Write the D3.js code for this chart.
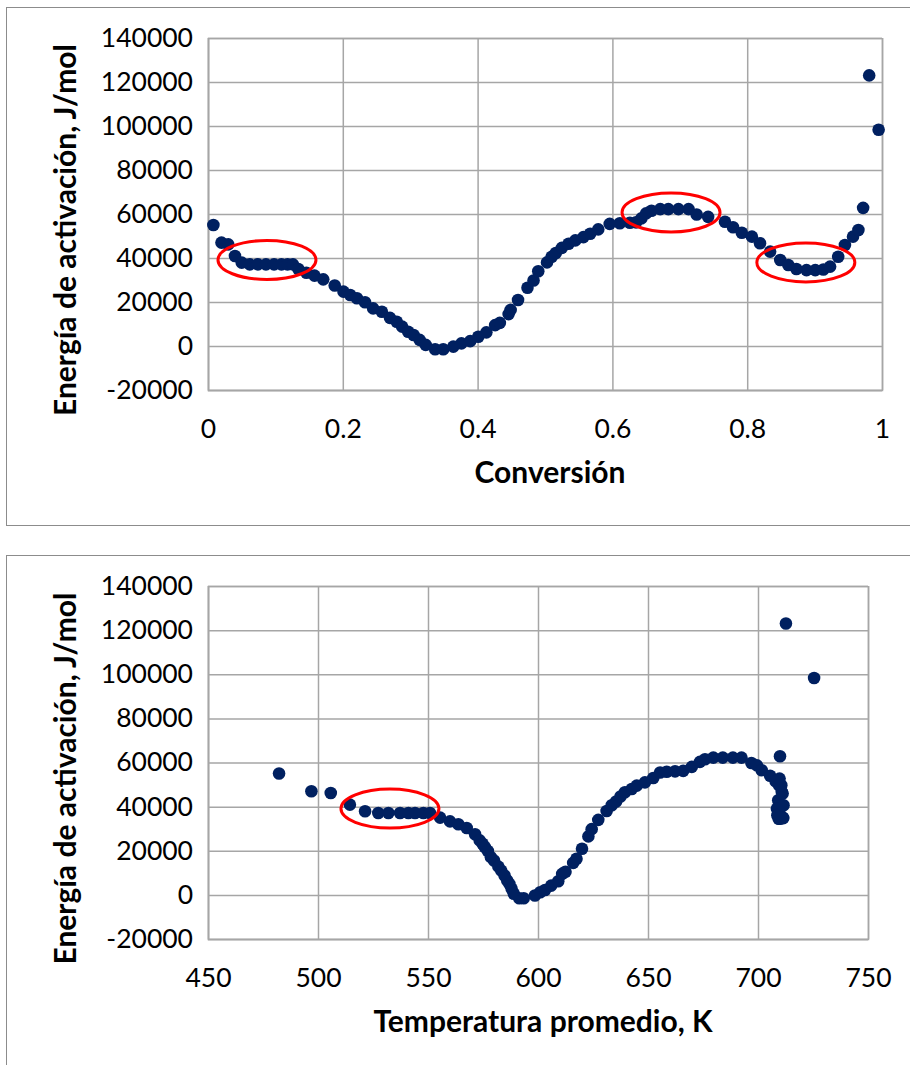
<!DOCTYPE html>
<html>
<head>
<meta charset="utf-8">
<script src="https://cdn.jsdelivr.net/npm/d3@7"></script>
<style>
html, body { margin: 0; padding: 0; background: #fff; }
svg text { font-family: Lato, "Open Sans", sans-serif; fill: #000; }
.axis .tick text { font-size: 26.5px; }
.axis line, .axis path { stroke: #a6a6a6; stroke-width: 1.5px; }
.title { font-size: 30px; font-weight: bold; }
.dot { fill: #002060; }
.ring { fill: none; stroke: #ff0000; stroke-width: 3px; }
.frame { fill: none; stroke: #8c8c8c; stroke-width: 1px; }
</style>
</head>
<body>
<svg id="chart" width="910" height="1065"></svg>
<script>

// values, one entry per point, same order in all three
var conversion = [0.008, 0.020, 0.030, 0.040, 0.050, 0.062, 0.074, 0.086, 0.098, 0.109,
  0.118, 0.126, 0.134, 0.146, 0.158, 0.171, 0.188, 0.201, 0.211, 0.221,
  0.233, 0.245, 0.258, 0.270, 0.280, 0.288, 0.297, 0.305, 0.314, 0.323,
  0.337, 0.349, 0.364, 0.376, 0.389, 0.401, 0.413, 0.426, 0.433, 0.446,
  0.449, 0.460, 0.474, 0.483, 0.490, 0.503, 0.510, 0.516, 0.525, 0.535,
  0.545, 0.557, 0.567, 0.579, 0.596, 0.611, 0.626, 0.635, 0.643, 0.650,
  0.658, 0.671, 0.683, 0.698, 0.713, 0.725, 0.742, 0.767, 0.779, 0.792,
  0.807, 0.819, 0.834, 0.849, 0.861, 0.873, 0.888, 0.901, 0.913, 0.923,
  0.935, 0.945, 0.957, 0.965, 0.972, 0.981, 0.995];

var temperature = [482.3, 497.0, 505.8, 514.5, 521.4, 527.4, 532.0, 537.3, 541.1, 544.1,
  547.9, 550.9, 555.5, 560.0, 563.8, 567.6, 571.4, 573.5, 574.8, 575.8,
  577.2, 578.6, 580.0, 582.0, 583.3, 584.8, 586.0, 587.0, 588.0, 589.0,
  591.5, 593.5, 598.6, 601.0, 603.2, 606.0, 609.2, 611.0, 612.5, 616.0,
  617.5, 620.0, 622.9, 624.4, 627.4, 631.2, 633.5, 635.5, 637.5, 639.5,
  642.6, 644.9, 648.6, 652.4, 655.5, 658.5, 662.3, 666.0, 669.9, 673.6,
  675.9, 679.7, 684.0, 688.6, 692.5, 697.0, 699.5, 701.7, 705.5, 708.0,
  709.6, 710.8, 709.2, 708.6, 709.8, 711.3, 709.4, 710.0, 711.5, 708.8,
  711.6, 711.2, 710.6, 709.8, 710.0, 712.7, 725.5];

var energy = [55000, 47000, 46200, 40900, 37900, 37100, 37100, 37100, 37100, 37100,
  37100, 37100, 35000, 33300, 32000, 30300, 27500, 24700, 23200, 21700,
  19900, 17100, 15600, 12800, 11000, 8800, 6500, 5000, 2800, 500,
  -1500, -1500, -300, 1200, 2200, 4200, 6200, 9500, 10500, 14500,
  16400, 20900, 26500, 29800, 34000, 38000, 40600, 42300, 44600, 46500,
  48000, 49500, 51000, 53000, 55500, 55800, 56000, 56200, 58000, 60300,
  61500, 62200, 62200, 62200, 62200, 59800, 58700, 56500, 54000, 51500,
  49700, 46700, 42900, 39100, 36800, 35000, 34500, 34500, 34800, 36100,
  40600, 45900, 49700, 52700, 62800, 123000, 98300];

var energyTicks = [-20000, 0, 20000, 40000, 60000, 80000, 100000, 120000, 140000];
var conversionTicks = [0, 0.2, 0.4, 0.6, 0.8, 1];
var temperatureTicks = [450, 500, 550, 600, 650, 700, 750];

// red rings: [x value, energy]
var conversionRings = [[0.0875, 39100], [0.687, 60700], [0.887, 38000]];
var temperatureRings = [[532.7, 39100]];

var svg = d3.select("#chart");

function panel(opt) {
  var g = svg.append("g");

  g.append("rect").attr("class", "frame")
      .attr("x", 6.5).attr("y", opt.frameTop + 0.5)
      .attr("width", 1000).attr("height", opt.frameHeight);

  var x = d3.scaleLinear().domain(opt.xDomain).range([opt.left, opt.right]);
  var y = d3.scaleLinear().domain([-20000, 140000]).range([opt.bottom, opt.top]);

  g.append("g").attr("class", "axis")
      .attr("transform", "translate(" + opt.left + ",0)")
      .call(d3.axisLeft(y).tickValues(energyTicks).tickFormat(String)
        .tickSize(-(opt.right - opt.left)).tickPadding(15));

  g.append("g").attr("class", "axis")
      .attr("transform", "translate(0," + opt.bottom + ")")
      .call(d3.axisBottom(x).tickValues(opt.xTicks).tickFormat(String)
        .tickSize(-(opt.bottom - opt.top)).tickPadding(29));

  g.selectAll(".dot")
      .data(energy)
    .enter().append("circle")
      .attr("class", "dot")
      .attr("r", 6.3)
      .attr("cx", function(d, i) { return x(opt.xValues[i]); })
      .attr("cy", function(d) { return y(d); });

  g.selectAll(".ring")
      .data(opt.rings)
    .enter().append("ellipse")
      .attr("class", "ring")
      .attr("cx", function(d) { return x(d[0]); })
      .attr("cy", function(d) { return y(d[1]); })
      .attr("rx", 49).attr("ry", 19.5);

  g.append("text").attr("class", "title")
      .attr("x", (opt.left + opt.right) / 2 + 5)
      .attr("y", opt.bottom + 93)
      .attr("text-anchor", "middle")
      .text(opt.xTitle);

  g.append("text").attr("class", "title")
      .attr("transform", "translate(76," + ((opt.top + opt.bottom) / 2 + 16) + ") rotate(-90)")
      .attr("text-anchor", "middle")
      .text("Energía de activación, J/mol");
}

panel({
  frameTop: 7, frameHeight: 518,
  left: 208, right: 882, top: 38, bottom: 390,
  xDomain: [0, 1], xTicks: conversionTicks, xValues: conversion,
  rings: conversionRings, xTitle: "Conversión"
});

panel({
  frameTop: 555, frameHeight: 600,
  left: 208, right: 868, top: 586, bottom: 939,
  xDomain: [450, 750], xTicks: temperatureTicks, xValues: temperature,
  rings: temperatureRings, xTitle: "Temperatura promedio, K"
});

</script>
</body>
</html>
